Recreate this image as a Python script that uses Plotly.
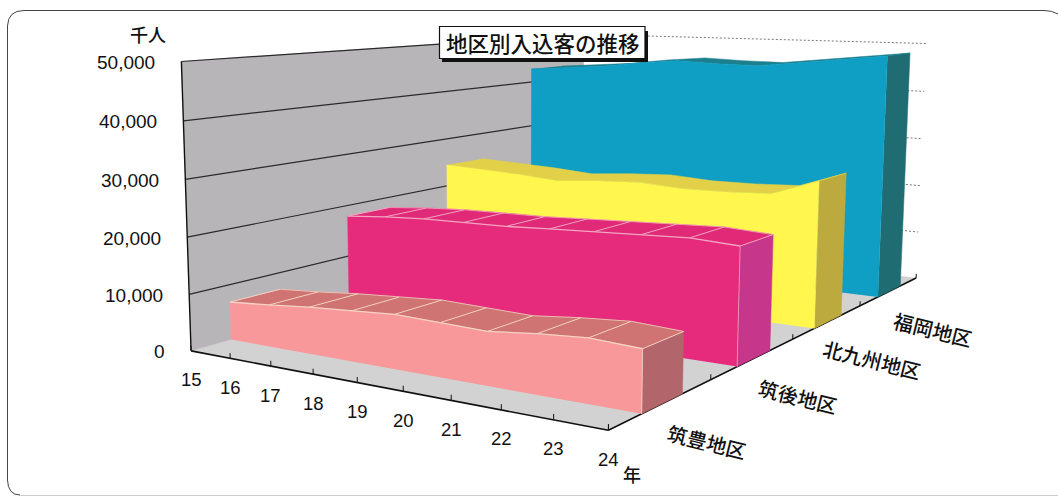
import numpy as np
import plotly.graph_objects as go

# ---- data ----
years = [15, 16, 17, 18, 19, 20, 21, 22, 23, 24]
regions = ["筑豊地区", "筑後地区", "北九州地区", "福岡地区"]
chikuho = [6850, 7450, 8200, 8700, 9300, 9100, 8900, 9750, 10350, 9950]
chikugo = [17900, 18600, 19050, 19250, 19350, 19750, 20150, 20500, 20850, 20400]
kitakyushu = [24450, 24100, 23750, 23150, 23850, 24300, 23800, 23900, 24300, 27400]
fukuoka = [42950, 43550, 44200, 45250, 46000, 45700, 45600, 46500, 47500, 48450]
z_ticks = [0, 10000, 20000, 30000, 40000, 50000]
z_max = 50000
series_values = [chikuho, chikugo, kitakyushu, fukuoka]

# ---- styles ----
FACES = [
    dict(front="#F9989A", top="#CF7473", side="#B2656B", edge="#F3D2C4"),
    dict(front="#E62A7C", top="#E02A78", side="#C6368A", edge="#F2A4C0"),
    dict(front="#FFF64E", top="#E3D049", side="#BDAA3F", edge=None),
    dict(front="#0F9FC4", top="#1B7F8E", side="#1F6C72", edge=None),
]
WALL, FLOOR, INK = "#B8B5B8", "#D2D2D2", "#111111"
NUM_FONT = "Liberation Sans"
JP_FONT = "Noto Sans CJK JP"

# ---- 3D view of the pseudo-3D chart (Excel style narrow-angle camera) ----
EYE = np.array([1.7628, -3.002, 0.4832])
AIM = np.array([-0.1088, -0.2011, -0.0577])
BOX = np.array([1.0, 1.5833, 0.6002])
CX, CY, FOCAL = 505.0, 215.0, 1527.97
DEPTH_FRONT, DEPTH_BACK = 0.3, 0.7


def view(year, depth, value):
    """Project (year, category depth 0..4, visitors) to the flat x/y axes."""
    pts = np.c_[(np.asarray(year, float) - years[0]) / (years[-1] - years[0]),
                np.asarray(depth, float) / len(regions),
                np.asarray(value, float) / z_max]
    world = (pts - 0.5) * BOX
    f = AIM - EYE
    f = f / np.linalg.norm(f)
    r = np.cross(f, [0, 0, 1.0])
    r = r / np.linalg.norm(r)
    u = np.cross(r, f)
    p = world - EYE
    zc = p @ f
    return CX + FOCAL * (p @ r) / zc, CY - FOCAL * (p @ u) / zc


fig = go.Figure()


def poly(year, depth, value, color, name=None, custom=None):
    x, y = view(year, depth, value)
    fig.add_trace(go.Scatter(
        x=x, y=y, mode="lines", fill="toself", fillcolor=color,
        line=dict(color=color, width=0.5), name=name or "", customdata=custom,
        hoverinfo="name" if name else "skip", showlegend=False))


def line(year, depth, value, color=INK, width=1.2, dash=None):
    x, y = view(year, depth, value)
    fig.add_trace(go.Scatter(
        x=x, y=y, mode="lines", line=dict(color=color, width=width, dash=dash),
        hoverinfo="skip", showlegend=False))


y0, y1 = years[0], years[-1]
nd = len(regions)

# floor and left wall
poly([y0, y1, y1, y0], [0, 0, nd, nd], [0, 0, 0, 0], FLOOR)
poly([y0, y0, y0, y0], [0, nd, nd, 0], [0, 0, z_max, z_max], WALL)

# grid lines: left wall solid, back wall faint
for z in z_ticks:
    if z:
        line([y0, y0], [0, nd], [z, z], color="#2A2A2A", width=1.2)
        line([y0, y1], [nd, nd], [z, z], color="#777777", width=1, dash="2px,2px")
line([y0, y0], [0, 0], [0, z_max], width=1.4)

# axis ticks and baselines
line([y0, y1], [0, 0], [0, 0], width=1.6)
line([y1, y1], [0, nd], [0, 0], width=1.6)
for yr in years:
    line([yr, yr], [0, 0], [0, 900], width=1)
for d in range(nd + 1):
    line([y1, y1], [d, d], [0, 900], width=1)

# series back to front
for i in reversed(range(nd)):
    vals = series_values[i]
    s = FACES[i]
    yf, yb = i + DEPTH_FRONT, i + DEPTH_BACK
    n = len(years)
    # side at the last year
    poly([y1, y1, y1, y1], [yf, yb, yb, yf], [0, 0, vals[-1], vals[-1]], s["side"])
    # top surface
    poly(years + years[::-1], [yf] * n + [yb] * n, vals + vals[::-1], s["top"])
    # front face
    poly([y0] + years + [y1], [yf] * (n + 2), [0] + vals + [0], s["front"],
         name=regions[i], custom=vals)
    if s["edge"]:
        line(years, [yf] * n, vals, color=s["edge"], width=1.3)
        line(years, [yb] * n, vals, color=s["edge"], width=0.8)
        for yr, v in zip(years, vals):
            line([yr, yr], [yf, yb], [v, v], color=s["edge"], width=1)
        line([y1, y1], [yf, yf], [0, vals[-1]], color=s["edge"], width=0.8)

# ---- tick labels ----
ann = []
for z in z_ticks:
    x, y = view([y0], [0], [z])
    ann.append(dict(x=x[0], y=y[0], text=f"{z:,}", xanchor="right", xshift=-24, yshift=-1,
                    font=dict(family=NUM_FONT, size=19, color="#111")))
for yr in years:
    x, y = view([yr], [0], [0])
    ann.append(dict(x=x[0], y=y[0], text=str(yr), xanchor="center", yshift=-29,
                    font=dict(family=NUM_FONT, size=18.5, color="#111")))
for d, name in enumerate(regions):
    x, y = view([y1], [d + 0.5], [0])
    ann.append(dict(x=x[0], y=y[0], text=name, xanchor="center", xshift=44, yshift=-38,
                    textangle=14, font=dict(family=JP_FONT, size=20, color="#111", weight=500)))
ann.append(dict(x=148, y=34, text="千人", xanchor="center",
                font=dict(family=JP_FONT, size=18, color="#111", weight=500)))
ann.append(dict(x=632, y=474, text="年", xanchor="center",
                font=dict(family=JP_FONT, size=18, color="#111", weight=500)))
ann.append(dict(x=543, y=42, text="地区別入込客の推移", xanchor="center",
                font=dict(family=JP_FONT, size=21.5, color="#111", weight=500)))
for a in ann:
    a.update(xref="x", yref="y", showarrow=False, yanchor="middle")

shapes = [
    dict(type="rect", x0=442, y0=31, x1=648, y1=62, fillcolor="#111", line=dict(width=0)),
    dict(type="rect", x0=439.5, y0=26.5, x1=645, y1=58.5, fillcolor="white",
         line=dict(color="#111", width=1.2)),
    dict(type="path",
         path="M1058,14 Q1052,10.5 1044,10.5 L24,10.5 Q8,10.5 7.5,26 L7.5,480 Q8,495 20,495",
         line=dict(color="#444", width=1)),
    dict(type="line", x0=20, y0=495.5, x1=1058, y1=495.5, line=dict(color="#CCCCCC", width=1)),
]
for s in shapes:
    s.update(xref="x", yref="y")

fig.update_layout(
    width=1058, height=497, margin=dict(l=0, r=0, t=0, b=0),
    paper_bgcolor="white", plot_bgcolor="white", showlegend=False,
    xaxis=dict(range=[0, 1058], visible=False, fixedrange=True),
    yaxis=dict(range=[497, 0], visible=False, fixedrange=True),
    annotations=ann, shapes=shapes,
)
fig.write_html("out.html", config=dict(displayModeBar=False),
               post_script="document.body.style.margin='0';")
